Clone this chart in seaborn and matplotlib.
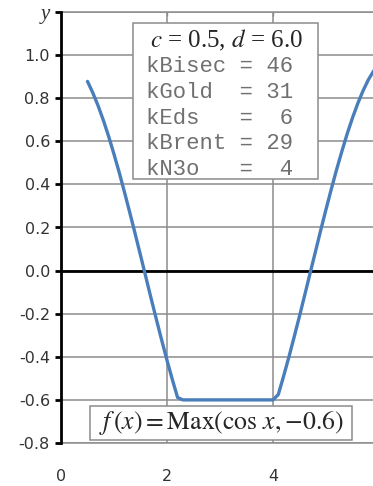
import numpy as np
import pandas as pd
import seaborn as sns
import matplotlib.pyplot as plt
from matplotlib.patches import Rectangle

# f(x) = Max(cos x, -0.6), sampled every 0.1 from c=0.5 to d=6.0
x_vals = [0.5, 0.6, 0.7, 0.8, 0.9, 1.0, 1.1, 1.2, 1.3, 1.4, 1.5, 1.6, 1.7, 1.8,
          1.9, 2.0, 2.1, 2.2, 2.3, 2.4, 2.5, 2.6, 2.7, 2.8, 2.9, 3.0, 3.1, 3.2,
          3.3, 3.4, 3.5, 3.6, 3.7, 3.8, 3.9, 4.0, 4.1, 4.2, 4.3, 4.4, 4.5, 4.6,
          4.7, 4.8, 4.9, 5.0, 5.1, 5.2, 5.3, 5.4, 5.5, 5.6, 5.7, 5.8, 5.9, 6.0]
f_vals = [0.878, 0.825, 0.765, 0.697, 0.622, 0.540, 0.454, 0.362, 0.267, 0.170,
          0.071, -0.029, -0.129, -0.227, -0.323, -0.416, -0.505, -0.589, -0.6,
          -0.6, -0.6, -0.6, -0.6, -0.6, -0.6, -0.6, -0.6, -0.6, -0.6, -0.6,
          -0.6, -0.6, -0.6, -0.6, -0.6, -0.6, -0.575, -0.490, -0.401, -0.307,
          -0.211, -0.112, -0.012, 0.087, 0.187, 0.284, 0.378, 0.469, 0.554,
          0.635, 0.709, 0.776, 0.835, 0.886, 0.927, 0.960]

x_ticks = [0, 2, 4, 6]
x_ticklabels = ["0", "2", "4", "x"]
y_ticks = [-0.8, -0.6, -0.4, -0.2, 0.0, 0.2, 0.4, 0.6, 0.8, 1.0, 1.2]
y_ticklabels = ["-0.8", "-0.6", "-0.4", "-0.2", "0.0", "0.2", "0.4", "0.6", "0.8", "1.0", "y"]

title_line = r"$c$ = 0.5, $d$ = 6.0"
counters = ["kBisec", "kGold", "kEds", "kBrent", "kN3o"]
counts = [46, 31, 6, 29, 4]
formula = r"$f\,(x) = \mathrm{Max}(\cos\,x, {-}0.6)$"

df = pd.DataFrame({"x": x_vals, "f": f_vals})

sns.set_style("white")
plt.rcParams["mathtext.fontset"] = "stix"
plt.rcParams["font.family"] = ["DejaVu Sans"]

W, H = 373, 486
fig = plt.figure(figsize=(W / 100, H / 100), dpi=100)
ax = fig.add_axes([61 / W, 43 / H, 318 / W, 431 / H])

grid_c = "#8c8c8c"
for yv in y_ticks:
    ax.axhline(yv, color=grid_c, lw=1.1, zorder=1)
for xv in [2, 4]:
    ax.axvline(xv, color=grid_c, lw=1.1, zorder=1)
ax.axhline(0, color="black", lw=2.0, zorder=2)

sns.lineplot(data=df, x="x", y="f", ax=ax, color="#4a7ebb", lw=2.4, zorder=3)

ax.set_xlim(0, 6)
ax.set_ylim(-0.8, 1.2)
ax.set_xticks(x_ticks)
ax.set_xticklabels(x_ticklabels)
ax.set_yticks(y_ticks)
ax.set_yticklabels(y_ticklabels)
ax.set_xlabel("")
ax.set_ylabel("")

for s in ["top", "bottom", "right"]:
    ax.spines[s].set_color(grid_c)
    ax.spines[s].set_linewidth(1.1)
ax.spines["left"].set_color("black")
ax.spines["left"].set_linewidth(2.0)
ax.spines["left"].set_zorder(4)

ax.tick_params(axis="y", left=True, length=4, width=2, color="black",
               labelsize=11.5, labelcolor="#333333", pad=4)
ax.tick_params(axis="x", bottom=False, top=True, direction="in", length=3,
               width=1, color=grid_c, labelsize=11.5, labelcolor="#333333", pad=19)

lbl_y = ax.get_yticklabels()[-1]
lbl_y.set_fontfamily("Liberation Serif")
lbl_y.set_fontstyle("italic")
lbl_y.set_fontsize(15)
lbl_x = ax.get_xticklabels()[-1]
lbl_x.set_fontfamily("Liberation Serif")
lbl_x.set_fontstyle("italic")
lbl_x.set_fontsize(15)


def fx(px):
    return px / W


def fy(py):
    return 1 - py / H


# info box
fig.patches.append(Rectangle((fx(133), fy(179)), (318 - 133) / W, (179 - 23) / H,
                             transform=fig.transFigure, facecolor="white",
                             edgecolor="#8c8c8c", lw=1.1, zorder=5))
fig.text(fx(226), fy(40), title_line, ha="center", va="center",
         fontsize=18, family="Liberation Serif", zorder=6)
for i, (name, n) in enumerate(zip(counters, counts)):
    fig.text(fx(146), fy(67 + i * 25.6), f"{name:<6} = {n:>2}", ha="left",
             va="center", fontsize=16, family="Liberation Mono",
             color="#707070", zorder=6)

# formula box
fig.patches.append(Rectangle((fx(90), fy(440)), (352 - 90) / W, (440 - 406) / H,
                             transform=fig.transFigure, facecolor="white",
                             edgecolor="#8c8c8c", lw=1.1, zorder=5))
fig.text(fx(221), fy(423), formula, ha="center", va="center",
         fontsize=18.5, zorder=6)

fig.savefig("out.png", dpi=100)
